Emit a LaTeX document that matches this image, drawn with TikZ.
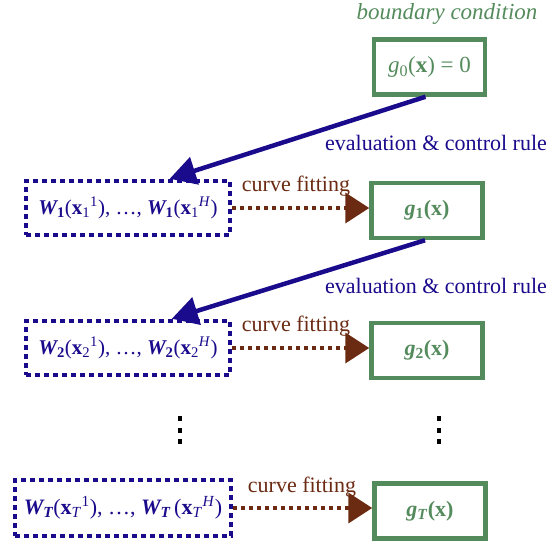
\documentclass[tikz,border=0pt]{standalone}
\usepackage{fontspec}
\setmainfont{Liberation Serif}
\usetikzlibrary{arrows.meta,calc}
\definecolor{bgreen}{RGB}{84,139,92}
\definecolor{bnavy}{RGB}{26,10,140}
\definecolor{bbrown}{RGB}{107,42,18}
\newcommand\bw[1]{{\bfseries\itshape #1}}
\newcommand\bx{\textbf{x}}
\tikzset{
  gbox/.style={draw=bgreen, line width=4.5pt, text=bgreen, minimum width=111pt, minimum height=55pt, inner sep=0pt, font=\fontsize{22}{26}\selectfont},
  wbox/.style={draw=bnavy, line width=4.5pt, dash pattern=on 5pt off 4pt, text=bnavy, minimum width=204pt, minimum height=54pt, inner sep=0pt, font=\fontsize{21}{25}\selectfont},
  evalarrow/.style={draw=bnavy, line width=4.5pt, -{Triangle[length=26pt,width=28pt]}},
  fitarrow/.style={draw=bbrown, line width=4pt, dash pattern=on 4pt off 4pt, -{Triangle[length=24pt,width=30pt]}},
  lbl/.style={font=\fontsize{22}{26}\selectfont, inner sep=0pt},
  vdot/.style={fill=black, minimum width=4pt, minimum height=5pt, inner sep=0pt}
}
\begin{document}
\begin{tikzpicture}[x=1pt,y=-1pt]
\useasboundingbox (0,0) rectangle (551,543);
\node[lbl, text=bgreen, font=\fontsize{23}{27}\selectfont\itshape] (bc) at (447,14) {boundary condition};
\node[gbox, font=\fontsize{23}{27}\selectfont] (g0) at (429.5,67) {\textit{g}\textsubscript{0}(\bx) = 0};
\node[wbox] (W1) at (128,208) {\bw{W}\textsubscript{\textbf{1}}(\bx\textsubscript{1}\textsuperscript{1}), \dots, \bw{W}\textsubscript{\textbf{1}}(\bx\textsubscript{1}\textsuperscript{\textit{H}})};
\node[gbox] (g1) at (427,210.5) {\textbf{\textit{g}\textsubscript{1}(x)}};
\node[wbox] (W2) at (128,348) {\bw{W}\textsubscript{\textbf{2}}(\bx\textsubscript{2}\textsuperscript{1}), \dots, \bw{W}\textsubscript{\textbf{2}}(\bx\textsubscript{2}\textsuperscript{\textit{H}})};
\node[gbox] (g2) at (427,350.5) {\textbf{\textit{g}\textsubscript{2}(x)}};
\node[wbox, minimum width=216pt, minimum height=56pt, font=\fontsize{22}{26}\selectfont] (WT) at (123,508) {\bw{W}\textsubscript{\bw{T}}(\bx\textsubscript{\textit{T}}\textsuperscript{1}), \dots, \bw{W}\textsubscript{\bw{T}}\,(\bx\textsubscript{\textit{T}}\textsuperscript{\textit{H}})};
\node[gbox] (gT) at (430,511) {\textbf{\textit{g}\textsubscript{\textit{T}}(x)}};
\draw[evalarrow] (g0.south) ++(-4,0) coordinate (s0) -- ($(W1.north west)!0.7!(W1.north east)$);
\draw[evalarrow] (g1.south) ++(-2,0) coordinate (s1) -- ($(W2.north west)!0.71!(W2.north east)$);
\node[lbl, text=bnavy] (e1) at (436,143) {evaluation \& control rule};
\node[lbl, text=bnavy] (e2) at (436,286) {evaluation \& control rule};
\draw[fitarrow] (W1.east) -- (W1.east -| g1.west);
\draw[fitarrow] (W2.east) -- (W2.east -| g2.west);
\draw[fitarrow] (WT.east) -- (WT.east -| gT.west);
\node[lbl, text=bbrown] (c1) at (296,186) {curve fitting};
\node[lbl, text=bbrown] (c2) at (296,326) {curve fitting};
\node[lbl, text=bbrown] (c3) at (302,487) {curve fitting};
\node[vdot] (d1) at (180,418) {};
\node[vdot] (d2) at (180,430) {};
\node[vdot] (d3) at (180,441) {};
\node[vdot] (d4) at (439,418) {};
\node[vdot] (d5) at (439,430) {};
\node[vdot] (d6) at (439,441) {};
\end{tikzpicture}
\end{document}
